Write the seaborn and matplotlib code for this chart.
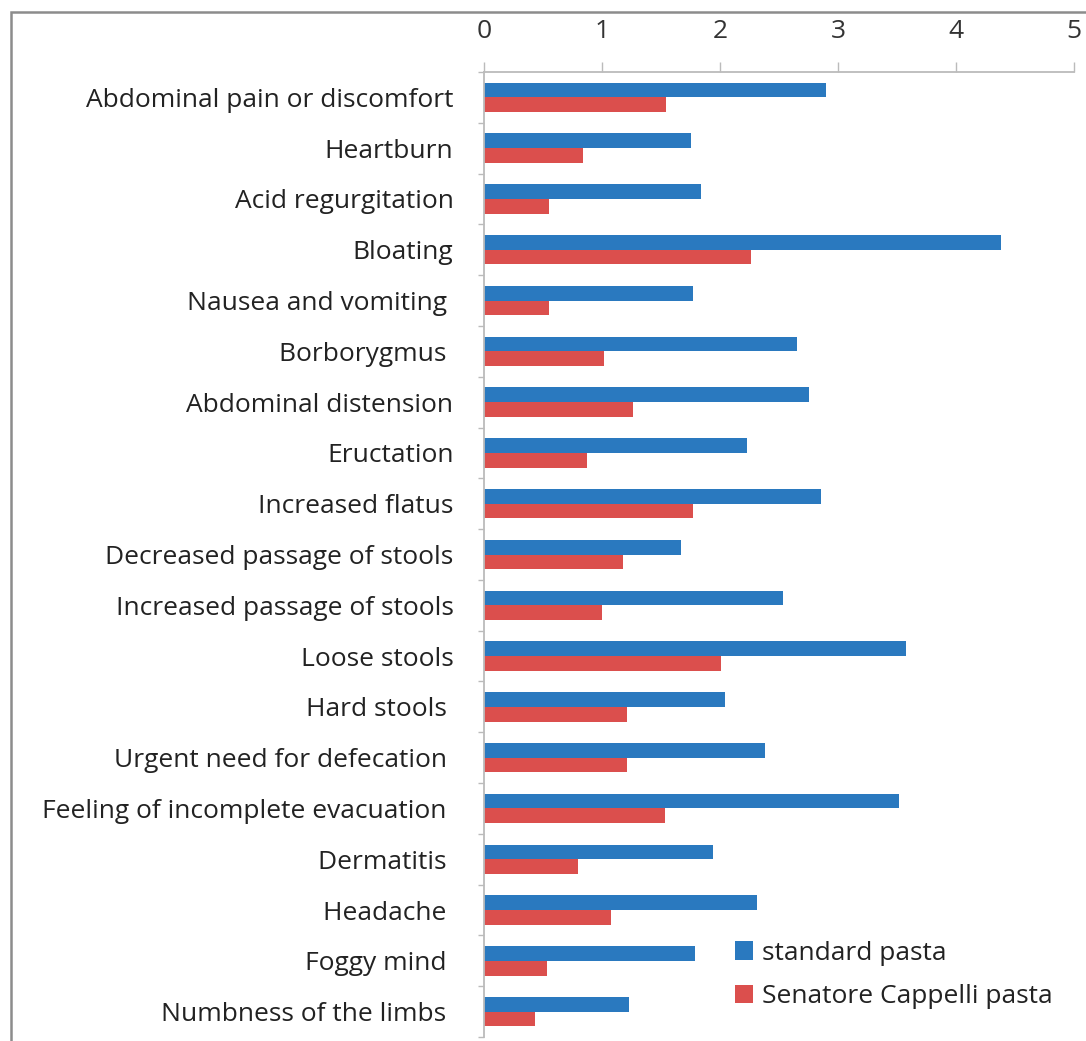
import matplotlib
matplotlib.use("Agg")
import matplotlib.pyplot as plt
from matplotlib.patches import Rectangle
import seaborn as sns
import pandas as pd

# Mean symptom scores per symptom, for the two pasta types
symptoms = [
    "Abdominal pain or discomfort",
    "Heartburn",
    "Acid regurgitation",
    "Bloating",
    "Nausea and vomiting ",
    "Borborygmus ",
    "Abdominal distension",
    "Eructation",
    "Increased flatus",
    "Decreased passage of stools",
    "Increased passage of stools",
    "Loose stools",
    "Hard stools ",
    "Urgent need for defecation ",
    "Feeling of incomplete evacuation ",
    "Dermatitis ",
    "Headache ",
    "Foggy mind ",
    "Numbness of the limbs ",
]
standard_pasta = [2.90, 1.75, 1.84, 4.38, 1.77, 2.65, 2.75, 2.23, 2.86, 1.67,
                  2.53, 3.58, 2.04, 2.38, 3.52, 1.94, 2.31, 1.79, 1.23]
cappelli_pasta = [1.54, 0.84, 0.55, 2.26, 0.55, 1.02, 1.26, 0.87, 1.77, 1.18,
                  1.00, 2.01, 1.21, 1.21, 1.53, 0.80, 1.08, 0.53, 0.43]
series_names = ["standard pasta", "Senatore Cappelli pasta"]
x_ticks = [0, 1, 2, 3, 4, 5]

df = pd.DataFrame({
    "symptom": symptoms * 2,
    "score": standard_pasta + cappelli_pasta,
    "pasta": [series_names[0]] * len(symptoms) + [series_names[1]] * len(symptoms),
})

sns.set_theme(style="white")
plt.rcParams["font.family"] = ["Open Sans", "DejaVu Sans"]

W, H = 1086, 1041
FS = 19
fig = plt.figure(figsize=(W / 100, H / 100), dpi=100)
ax = fig.add_axes([484 / W, 4 / H, 590 / W, 965 / H])

palette = {series_names[0]: "#2A79BF", series_names[1]: "#DB4F4D"}
sns.barplot(data=df, y="symptom", x="score", hue="pasta", orient="h",
            palette=palette, width=0.58, gap=0, saturation=1,
            linewidth=0, ax=ax)

ax.set_xlim(0, 5)
ax.set_ylim(len(symptoms) - 0.5, -0.5)
ax.set_xlabel("")
ax.set_ylabel("")

# value axis on top
ax.xaxis.tick_top()
ax.set_xticks(x_ticks)
ax.set_xticklabels([str(t) for t in x_ticks])
ax.tick_params(axis="x", which="major", top=True, bottom=False, length=7,
               width=1, color="#BBBBBB", pad=13, labelsize=FS, labelcolor="#333333")

# category separators on the left spine
ax.set_yticks(range(len(symptoms)))
ax.set_yticklabels(symptoms)
ax.tick_params(axis="y", which="major", left=False, length=0, pad=22,
               labelsize=FS, labelcolor="#222222")
ax.set_yticks([i - 0.5 for i in range(len(symptoms) + 1)], minor=True)
ax.tick_params(axis="y", which="minor", left=True, length=4, width=1,
               color="#BBBBBB")

for s in ["right", "bottom"]:
    ax.spines[s].set_visible(False)
for s in ["top", "left"]:
    ax.spines[s].set_color("#BBBBBB")
    ax.spines[s].set_linewidth(1.3)

handles, labels = ax.get_legend_handles_labels()
ax.legend(handles, labels, loc="center left",
          bbox_to_anchor=(735 / W, 1 - 975 / H), bbox_transform=fig.transFigure,
          frameon=False, fontsize=FS, borderpad=0, borderaxespad=0,
          handlelength=0.68, handleheight=0.68,
          handletextpad=0.35, labelspacing=0.7, labelcolor="#222222")

# outer border of the chart area
fig.patches.append(Rectangle((11 / W, -0.1), 1.2, 1 - 12 / H + 0.1,
                             transform=fig.transFigure, fill=False,
                             edgecolor="#8C8C8C", linewidth=1.8))

fig.savefig("out.png", dpi=100, facecolor="white")
